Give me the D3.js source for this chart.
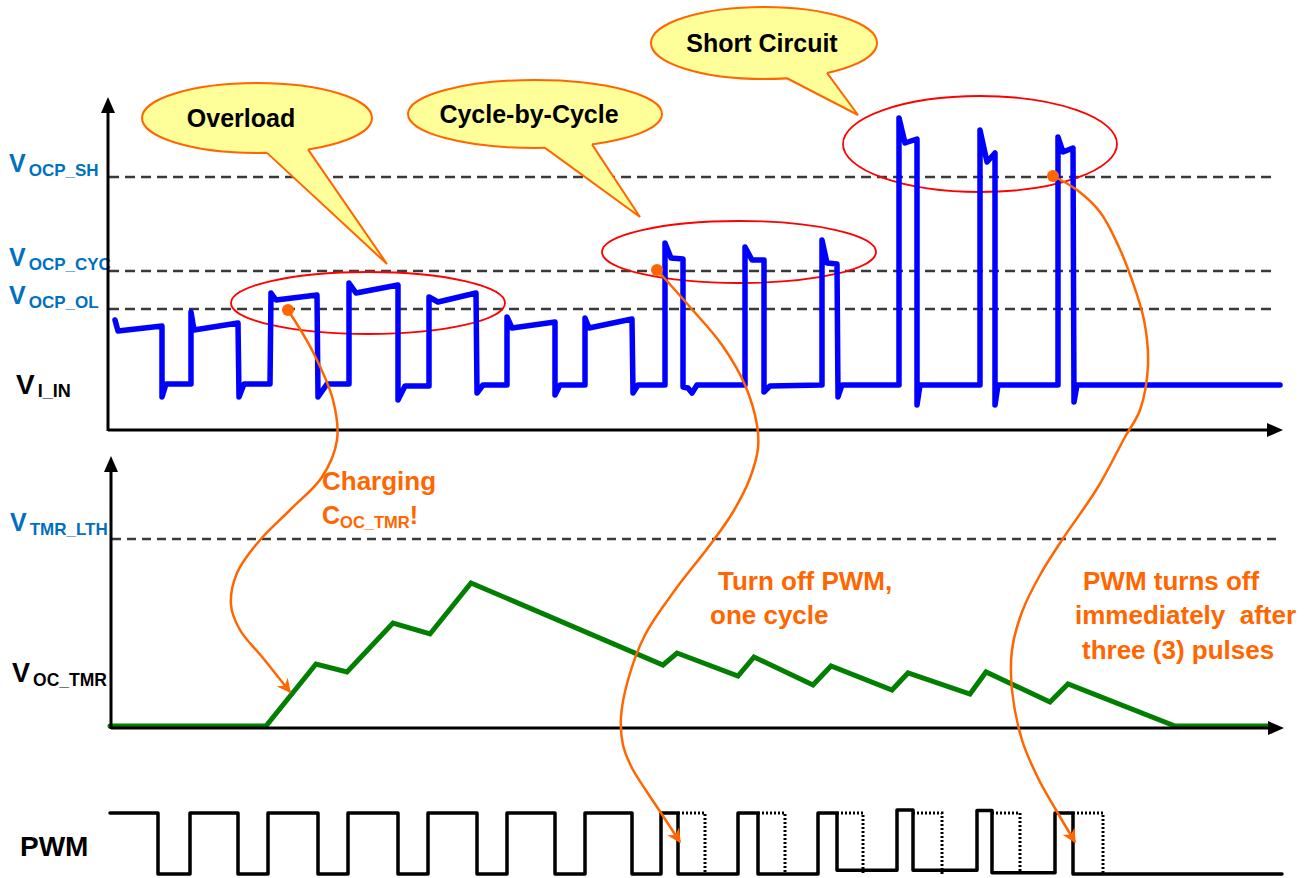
<!DOCTYPE html>
<html><head><meta charset="utf-8">
<script src="https://cdn.jsdelivr.net/npm/d3@7"></script>
<style>
html,body{margin:0;padding:0;background:#fff;}
svg{display:block;font-family:"Liberation Sans",Arial,Helvetica,sans-serif;font-weight:bold;}
</style></head><body>
<svg id="c" width="1304" height="878"></svg>
<script>
// ---------- DATA (time units from origin; signal units from each panel's baseline) ----------
// Top panel: current-sense waveform V_I_IN  [t, v]
const vinPoints = [
 [7,110],[10,99],[54,104],[54,33],[58,46],[83,46],[83,118],[86,100],[130,107],[131,33],[136,46],
 [162,46],[163,137],[168,130],[209,135],[210,33],[219,46],[241,46],[241,147],[248,137],[290,145],
 [290,30],[297,44],[321,44],[321,133],[330,128],[368,137],[369,37],[375,45],[399,45],[399,113],
 [404,102],[447,108],[447,35],[452,45],[477,45],[477,112],[481,102],[524,111],[525,37],[530,45],
 [557,45],[557,187],[563,172],[575,171],[575,43],[580,42],[584,37],[589,45],[637,45],[637,183],
 [644,170],[656,170],[656,38],[662,44],[714,45],[714,190],[719,167],[729,166],[730,33],[734,45],
 [791,45],[791,312],[797,287],[809,291],[809,25],[812,45],[872,45],[872,300],[879,268],[887,277],
 [887,25],[890,45],[950,45],[950,293],[955,278],[965,282],[966,28],[969,45],[1172,45]
];
const ocpNames  = ["OCP_SH", "OCP_CYC", "OCP_OL"];
const ocpLevels = [253, 159, 121];

// Middle panel: timer capacitor voltage V_OC_TMR [t, v]
const tmrPoints = [
 [2,0],[158,0],[208,62],[239,54],[285,103],[322,92],[363,143],[555,61],[569,73],[630,50],[646,69],
 [705,41],[723,60],[784,36],[800,53],[862,32],[878,54],[942,24],[960,42],[1067,0],[1160,0]
];
const tmrThreshold = 187;   // V_TMR_LTH

// Bottom: PWM logic level [t, level] (step after)
const pwmPoints = [
 [2,1],[50,0],[82,1],[130,0],[160,1],[210,0],[240,1],[290,0],[320,1],[369,0],[399,1],[447,0],
 [477,1],[524,0],[553,1],[570,0],[630,1],[650,0],[710,1],[729,0.06],[789,1.05],[805,0.06],
 [869,1.04],[884,0.02],[947,1],[965,0],[1174,0]
];
// Normal (uncut) pulse ends shown dotted: [fall time, nominal end]
const pwmGhost = [[570,597],[650,677],[729,755],[805,834],[884,912],[965,995]];

// Annotation ellipses on top panel: [t centre, v centre, rx, ry]
const zoneEllipses = [[260,127,137,31],[631,178,137,31],[872,286,137,48]];

// Speech bubbles: text, centre [t,v], radii, tail base t's, tail tip [t,v]
const bubbleText = ["Overload", "Cycle-by-Cycle", "Short Circuit"];
const bubbleCentre = [[149,312],[427,316],[656,387]];
const bubbleRadii = [[115,35],[127,34],[113,36]];
const bubbleTailBase = [[159,200],[437,484],[679,719]];
const bubbleTip = [[279,166],[532,213],[750,315]];
const bubbleTextX = [133,421,654];

// Orange arrows (in top-panel units, extending below)
const arrowPaths = [
 [[180,120],[205,78],[225,30],[229,-10],[214,-47],[182,-80],[152,-110],[129,-143],[123,-175],[132,-200],[155,-228],[182,-262]],
 [[549,160],[582,123],[614,85],[637,45],[649,5],[650,-18],[642,-48],[625,-82],[602,-115],[567,-160],[537,-205],[520,-250],[513,-287],[515,-315],[524,-338],[539,-362],[555,-386],[572,-412]],
 [[945,254],[969,240],[992,218],[1010,185],[1024,150],[1036,110],[1040,65],[1032,20],[1017,-7],[990,-57],[954,-110],[932,-145],[914,-182],[904,-220],[904,-260],[914,-310],[930,-348],[948,-380],[967,-412]]
];

// ---------- SCALES ----------
const svg = d3.select("#c");
const x = d3.scaleLinear().domain([0,1174]).range([108,1282]);
const yTop = d3.scaleLinear().domain([0,330]).range([430,100]);
const yMid = d3.scaleLinear().domain([0,270]).range([726,456]);
const yPwm = d3.scaleLinear().domain([0,1]).range([874,813]);

const ORANGE = "#ff6600", BLUE_TXT = "#0070c0";

svg.append("defs").append("marker")
  .attr("id","arr").attr("viewBox","0 0 10 10").attr("refX",9).attr("refY",5)
  .attr("markerUnits","userSpaceOnUse").attr("markerWidth",20).attr("markerHeight",14)
  .attr("orient","auto")
  .append("path").attr("d","M0,0 L10,5 L0,10 L3,5 Z").attr("fill",ORANGE);

// ---------- LABELS ----------
function vlabel(xp, yb, sub, color, mainSize, subSize, subDy){
  const t = svg.append("text").attr("x",xp).attr("y",yb).attr("fill",color);
  t.append("tspan").attr("font-size",mainSize).text("V");
  t.append("tspan").attr("font-size",subSize).attr("dy",subDy).attr("dx",3).text(sub);
}
ocpNames.forEach((n,i)=> vlabel(9, yTop(ocpLevels[i])-5, n, BLUE_TXT, 25, 17, 4));
vlabel(16, 394, "I_IN", "#000", 28, 18, 3);
vlabel(10, yMid(tmrThreshold)-8, "TMR_LTH", BLUE_TXT, 25, 17, 4);
vlabel(12, 682, "OC_TMR", "#000", 27, 17.5, 4);
svg.append("text").attr("x",20).attr("y",856).attr("font-size",28).attr("fill","#000").text("PWM");

// ---------- THRESHOLD LINES ----------
svg.selectAll(".ocp").data(ocpLevels).join("line")
  .attr("x1",x(1)).attr("x2",x(1169)).attr("y1",d=>yTop(d)).attr("y2",d=>yTop(d))
  .attr("stroke","#3a3a3a").attr("stroke-width",2.5).attr("stroke-dasharray","10,6");
svg.append("line").attr("x1",x(4)).attr("x2",x(1172))
  .attr("y1",yMid(tmrThreshold)).attr("y2",yMid(tmrThreshold))
  .attr("stroke","#3a3a3a").attr("stroke-width",2.5).attr("stroke-dasharray","9,6");

// ---------- ZONE ELLIPSES ----------
svg.selectAll(".zone").data(zoneEllipses).join("ellipse")
  .attr("cx",d=>x(d[0])).attr("cy",d=>yTop(d[1]))
  .attr("rx",d=>x(d[2])-x(0)).attr("ry",d=>yTop(0)-yTop(d[3]))
  .attr("fill","none").attr("stroke","#ff0000").attr("stroke-width",1.8);

// ---------- BLUE WAVEFORM ----------
svg.append("path").datum(vinPoints)
  .attr("d", d3.line().x(d=>x(d[0])).y(d=>yTop(d[1])))
  .attr("fill","none").attr("stroke","#0000ff").attr("stroke-width",5.5)
  .attr("stroke-linejoin","round").attr("stroke-linecap","round");

// ---------- SPEECH BUBBLES ----------
bubbleText.forEach((txt,i)=>{
  const cx = x(bubbleCentre[i][0]), cy = yTop(bubbleCentre[i][1]);
  const rx = bubbleRadii[i][0], ry = bubbleRadii[i][1];
  const base = bubbleTailBase[i].map(t=>{
    const bx = x(t), dx = (bx-cx)/rx;
    return [bx, cy + ry*Math.sqrt(Math.max(0,1-dx*dx))];
  });
  const tip = [x(bubbleTip[i][0]), yTop(bubbleTip[i][1])];
  const g = svg.append("g");
  g.append("ellipse").attr("cx",cx).attr("cy",cy).attr("rx",rx).attr("ry",ry)
    .attr("fill","#ffff99").attr("stroke",ORANGE).attr("stroke-width",2);
  g.append("path").attr("d",`M${base[0][0]},${base[0][1]-5} L${base[0][0]},${base[0][1]} L${tip[0]},${tip[1]} L${base[1][0]},${base[1][1]} L${base[1][0]},${base[1][1]-5} Z`)
    .attr("fill","#ffff99").attr("stroke","none");
  g.append("path").attr("d",`M${base[0][0]},${base[0][1]} L${tip[0]},${tip[1]} L${base[1][0]},${base[1][1]}`)
    .attr("fill","none").attr("stroke",ORANGE).attr("stroke-width",2).attr("stroke-linejoin","miter");
  g.append("text").attr("x",x(bubbleTextX[i])).attr("y",cy+9).attr("text-anchor","middle")
    .attr("font-size",25).attr("fill","#000").text(txt);
});

// ---------- GREEN TIMER ----------
svg.append("path").datum(tmrPoints)
  .attr("d", d3.line().x(d=>x(d[0])).y(d=>yMid(d[1])))
  .attr("fill","none").attr("stroke","#007f00").attr("stroke-width",5)
  .attr("stroke-linejoin","miter").attr("stroke-linecap","round");

// ---------- PWM ----------
svg.append("path").datum(pwmPoints)
  .attr("d", d3.line().x(d=>x(d[0])).y(d=>yPwm(d[1])).curve(d3.curveStepAfter))
  .attr("fill","none").attr("stroke","#000").attr("stroke-width",3.5)
  .attr("stroke-linejoin","round").attr("stroke-linecap","round");
svg.selectAll(".ghost").data(pwmGhost).join("path")
  .attr("d",d=>`M${x(d[0])},${yPwm(1)} L${x(d[1])},${yPwm(1)} L${x(d[1])},${yPwm(0)}`)
  .attr("fill","none").attr("stroke","#000").attr("stroke-width",3).attr("stroke-dasharray","2,2");

// ---------- AXES ----------
function axes(x0, y0, yTopEnd, xEnd){
  const g = svg.append("g");
  g.append("line").attr("x1",x0).attr("x2",x0).attr("y1",y0+1).attr("y2",yTopEnd+10)
    .attr("stroke","#000").attr("stroke-width",3);
  g.append("line").attr("x1",x0).attr("x2",xEnd-10).attr("y1",y0).attr("y2",y0)
    .attr("stroke","#000").attr("stroke-width",3);
  g.append("path").attr("d",`M${x0},${yTopEnd} L${x0-7},${yTopEnd+16} L${x0+7},${yTopEnd+16} Z`).attr("fill","#000");
  g.append("path").attr("d",`M${xEnd},${y0} L${xEnd-16},${y0-7} L${xEnd-16},${y0+7} Z`).attr("fill","#000");
}
axes(x(0), yTop(0), 97, 1283);
axes(x(3), yMid(0)+2, 456, 1284);

// ---------- ORANGE ANNOTATION ARROWS ----------
const curve = d3.line().x(d=>x(d[0])).y(d=>yTop(d[1])).curve(d3.curveCatmullRom.alpha(0.5));
svg.selectAll(".oarr").data(arrowPaths).join("path")
  .attr("d",curve).attr("fill","none").attr("stroke",ORANGE).attr("stroke-width",2.5)
  .attr("marker-end","url(#arr)");
svg.selectAll(".odot").data(arrowPaths).join("circle")
  .attr("cx",d=>x(d[0][0])).attr("cy",d=>yTop(d[0][1])).attr("r",6).attr("fill",ORANGE);

// ---------- ORANGE NOTES ----------
const notes = [
  ["Charging",322,490],["Turn off PWM,",718,590],["one cycle",710,624],
  ["PWM turns off",1083,590],["immediately  after",1075,624],["three (3) pulses",1082,659]
];
notes.forEach(n=>svg.append("text").attr("x",n[1]).attr("y",n[2]).attr("font-size",26)
  .attr("fill",ORANGE).style("white-space","pre").text(n[0]));
const c = svg.append("text").attr("x",322).attr("y",524).attr("fill",ORANGE);
c.append("tspan").attr("font-size",25).text("C");
c.append("tspan").attr("font-size",16.5).attr("dy",4).text("OC_TMR");
c.append("tspan").attr("font-size",25).attr("dy",-4).text("!");
</script>
</body></html>
